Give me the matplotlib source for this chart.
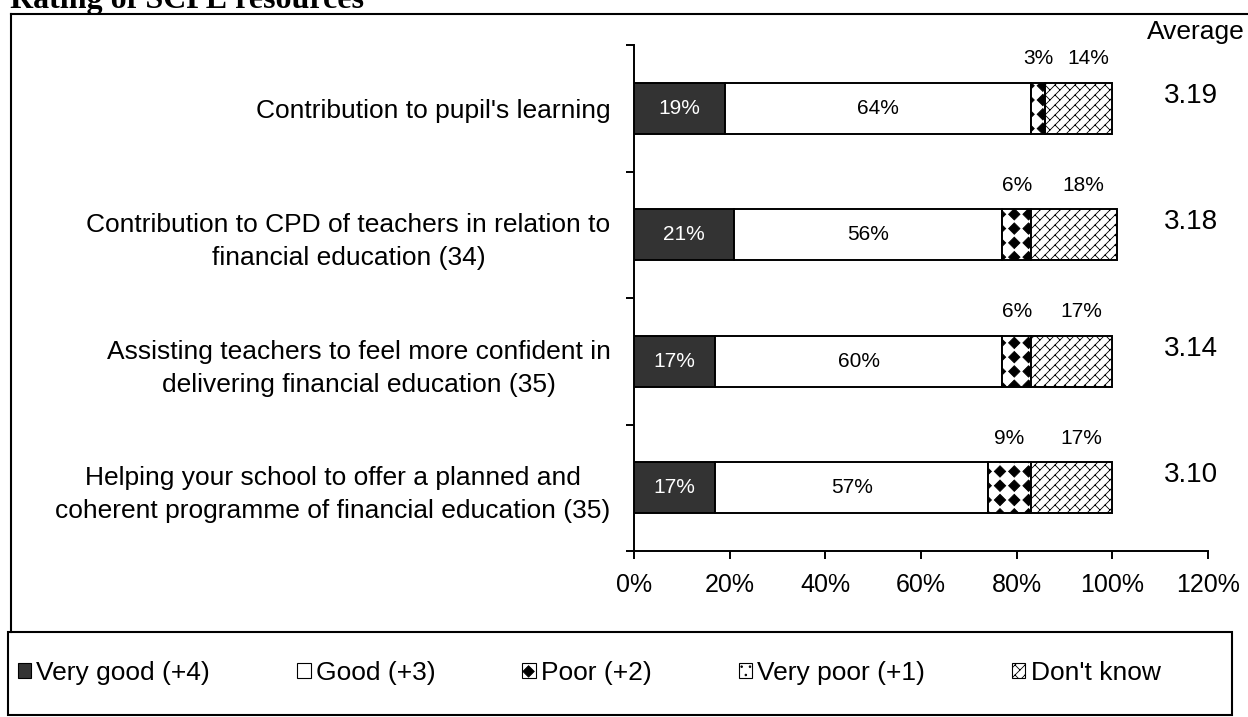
import matplotlib
import numpy as np

matplotlib.use("Agg")
import matplotlib.hatch as mhatch
import matplotlib.pyplot as plt
from matplotlib.lines import Line2D
from matplotlib.patches import Patch, Rectangle
from matplotlib.path import Path as MPath

categories = [
    "Contribution to pupil's learning",
    "Contribution to CPD of teachers in relation to\nfinancial education (34)",
    "Assisting teachers to feel more confident in\ndelivering financial education (35)",
    "Helping your school to offer a planned and\ncoherent programme of financial education (35)",
]
very_good = [19, 21, 17, 17]
good = [64, 56, 60, 57]
poor = [3, 6, 6, 9]
very_poor = [0, 0, 0, 0]
dont_know = [14, 18, 17, 17]
averages = [3.19, 3.18, 3.14, 3.10]

series_names = ["Very good (+4)", "Good (+3)", "Poor (+2)", "Very poor (+1)", "Don't know"]
x_ticks = [0, 20, 40, 60, 80, 100, 120]


class DiamondHatch(mhatch.HatchPatternBase):
    """Filled diamonds on a square grid, selected with '*'."""

    def __init__(self, hatch, density):
        self.num_rows = 7 * hatch.count("*")
        self.num_vertices = (self.num_rows + 1) ** 2 * 5 if self.num_rows else 0

    def set_vertices_and_codes(self, vertices, codes):
        step = 1.0 / self.num_rows
        r = 0.40 * step
        shape = np.array([[0, r], [r, 0], [0, -r], [-r, 0], [0, r]])
        shape_codes = [MPath.MOVETO, MPath.LINETO, MPath.LINETO, MPath.LINETO, MPath.CLOSEPOLY]
        pos = np.linspace(0, 1, self.num_rows + 1)
        parts = [shape + [px, py] for py in pos for px in pos]
        vertices[:] = np.concatenate(parts)
        codes[:] = np.tile(shape_codes, len(parts))

    get_vertices_and_codes = set_vertices_and_codes


class BrickHatch(mhatch.HatchPatternBase):
    """Diagonal brick courses, selected with 'O'."""

    def __init__(self, hatch, density):
        n = hatch.count("O")
        self.courses = 10 * n
        self.bricks = 5 * n
        if n:
            n_lines = 2 * self.courses + 1
            n_joints = 2 * self.courses * (2 * self.bricks + 1)
            self.num_vertices = 2 * (n_lines + n_joints)
        else:
            self.num_vertices = 0

    def set_vertices_and_codes(self, vertices, codes):
        m, p = self.courses, self.bricks
        segs = []
        # "/" course lines: v = y - x constant
        for k in range(-m, m + 1):
            v = k / m
            segs.append(((-0.2, v), (2.2, v)))
        # "\" joints between neighbouring courses, staggered
        for k in range(-m, m):
            for j in range(2 * p + 1):
                u = j / p + (k % 2) * 0.5 / p
                segs.append(((u, k / m), (u, (k + 1) / m)))
        pts = []
        for (u0, v0), (u1, v1) in segs:
            pts.append(((u0 - v0) / 2, (u0 + v0) / 2))
            pts.append(((u1 - v1) / 2, (u1 + v1) / 2))
        vertices[:] = np.array(pts)
        codes[0::2] = MPath.MOVETO
        codes[1::2] = MPath.LINETO

    get_vertices_and_codes = set_vertices_and_codes


mhatch._hatch_types = [
    t for t in mhatch._hatch_types if t not in (mhatch.Stars, mhatch.LargeCircles)
] + [DiamondHatch, BrickHatch]

plt.rcParams["font.family"] = ["Liberation Sans", "DejaVu Sans"]
plt.rcParams["hatch.linewidth"] = 0.6

fills = ["#333333", "white", "white", "white", "white"]
hatches = [None, None, "*", "..", "O"]

fig = plt.figure(figsize=(12.48, 7.17), dpi=100)
ax = fig.add_axes([634 / 1248, 1 - 551 / 717, 574 / 1248, 506 / 717])

series = [very_good, good, poor, very_poor, dont_know]
y = np.arange(len(categories))
left = np.zeros(len(categories))
bars = []
for values, name, face, hatch in zip(series, series_names, fills, hatches):
    b = ax.barh(y, values, left=left, height=0.4, color=face, edgecolor="black",
                linewidth=1.4, hatch=hatch, label=name)
    bars.append((b, np.array(values), left.copy()))
    left += values

# labels inside the first two segments
for (b, vals, start), colour in zip(bars[:2], ["white", "black"]):
    for i, v in enumerate(vals):
        ax.text(start[i] + v / 2, y[i], f"{v}%", ha="center", va="center",
                fontsize=15, color=colour)

# small segments get their labels above the bar
for (b, vals, start), dx in [(bars[2], 0), (bars[4], 7)]:
    for i, v in enumerate(vals):
        ax.annotate(f"{v}%", (start[i] + v / 2, y[i] - 0.39), xytext=(dx, 0),
                    textcoords="offset points", ha="center", va="center", fontsize=15)

for i, avg in enumerate(averages):
    ax.text(116.5, y[i] - 0.1, f"{avg:.2f}", ha="center", va="center", fontsize=20,
            clip_on=False)
ax.text(117.5, -0.6, "Average", ha="center", va="center", fontsize=19, clip_on=False)

ax.set_xlim(0, 120)
ax.set_ylim(len(categories) - 0.5, -0.5)
ax.set_xticks(x_ticks)
ax.set_xticklabels([f"{t}%" for t in x_ticks], fontsize=18)
ax.set_yticks(y)
ax.set_yticklabels(categories, fontsize=19, linespacing=1.48)
for t in ax.get_yticklabels():
    t.set_multialignment("center")
ax.set_yticks(np.arange(len(categories) + 1) - 0.5, minor=True)
ax.tick_params(axis="y", which="major", length=0, pad=17)
ax.tick_params(axis="y", which="minor", length=6, width=1.4, direction="out")
ax.tick_params(axis="x", length=6, width=1.4, direction="out", pad=10)
for side in ["top", "right"]:
    ax.spines[side].set_visible(False)
for side in ["left", "bottom"]:
    ax.spines[side].set_linewidth(1.4)

# chart frame and title
fig.text(10 / 1248, 1 - 8 / 717, "Rating of SCPE resources", fontsize=23,
         fontweight="bold", family="Liberation Serif", va="baseline", ha="left")
fig.add_artist(Line2D([10.5 / 1248, 1.0], [1 - 14 / 717] * 2, color="black", lw=1.5))
fig.add_artist(Line2D([10.5 / 1248] * 2, [1 - 14 / 717, 1 - 632 / 717], color="black", lw=1.5))
fig.add_artist(Rectangle((8 / 1248, 2 / 717), 1224 / 1248, 83 / 717,
                         transform=fig.transFigure, fill=False, edgecolor="black", lw=1.5))

handles = [Patch(facecolor=f, edgecolor="black", hatch=h, linewidth=0.8)
           for f, h in zip(fills, hatches)]
fig.legend(handles, series_names, loc="center left", bbox_to_anchor=(18 / 1248, 1 - 673 / 717),
           ncol=5, frameon=False, fontsize=19, handlelength=0.5, handleheight=0.5,
           handletextpad=0.2, columnspacing=3.3, borderpad=0, borderaxespad=0)

fig.savefig("out.png", dpi=100)
